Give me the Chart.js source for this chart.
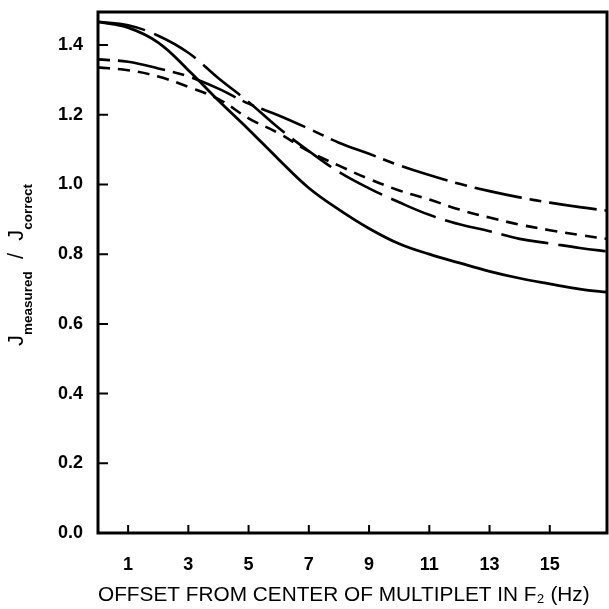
<!DOCTYPE html>
<html>
<head>
<meta charset="utf-8">
<script src="https://cdn.jsdelivr.net/npm/chart.js@4.4.1/dist/chart.umd.min.js"></script>
<style>
  html, body { margin: 0; padding: 0; background: #fff; }
  #wrap { width: 609px; height: 609px; }
</style>
</head>
<body>
<div id="wrap"><canvas id="myChart" width="609" height="609"></canvas></div>
<script>
// offset from multiplet centre (Hz)
const offsets = [0, 1, 2, 3, 4, 5, 6, 7, 8, 9, 10, 11, 12, 13, 14, 15, 16, 17];

// J measured / J correct, one array per curve
const solidCurve     = [1.467, 1.45, 1.407, 1.328, 1.241, 1.158, 1.072, 0.99, 0.928, 0.874, 0.83, 0.80, 0.775, 0.751, 0.731, 0.715, 0.70, 0.69];
const longDashCurve  = [1.467, 1.457, 1.427, 1.378, 1.305, 1.237, 1.162, 1.096, 1.036, 0.989, 0.949, 0.913, 0.886, 0.866, 0.844, 0.831, 0.818, 0.807];
const longShortCurve = [1.359, 1.352, 1.333, 1.31, 1.275, 1.232, 1.198, 1.16, 1.12, 1.088, 1.055, 1.027, 1.002, 0.981, 0.963, 0.948, 0.935, 0.924];
const shortDashCurve = [1.336, 1.328, 1.31, 1.28, 1.245, 1.19, 1.147, 1.095, 1.054, 1.016, 0.983, 0.957, 0.928, 0.905, 0.885, 0.869, 0.855, 0.843];

const xTickValues = [1, 3, 5, 7, 9, 11, 13, 15];
const yTickValues = [0, 0.2, 0.4, 0.6, 0.8, 1.0, 1.2, 1.4];

function pts(ys) {
    return offsets.map((x, i) => ({ x: x, y: ys[i] }));
}

function curve(ys, dash, width) {
    return {
        data: pts(ys),
        borderColor: "#000",
        borderWidth: width,
        borderDash: dash,
        pointRadius: 0,
        fill: false,
        tension: 0.4
    };
}

// frame + inward tick marks + y title
const framePlugin = {
    id: "frame",
    afterDraw(chart) {
        const ctx = chart.ctx;
        const a = chart.chartArea;
        const xs = chart.scales.x, ys = chart.scales.y;
        ctx.save();
        ctx.strokeStyle = "#000";
        ctx.lineCap = "square";
        ctx.lineWidth = 3;
        ctx.beginPath();
        ctx.moveTo(a.left, a.top);
        ctx.lineTo(a.right, a.top);
        ctx.lineTo(a.right, a.bottom);
        ctx.lineTo(a.left, a.bottom);
        ctx.closePath();
        ctx.stroke();

        ctx.lineWidth = 2;
        ctx.lineCap = "butt";
        ctx.beginPath();
        yTickValues.forEach(v => {
            const py = ys.getPixelForValue(v);
            ctx.moveTo(a.left, py);
            ctx.lineTo(a.left + 10, py);
        });
        xTickValues.forEach(v => {
            const px = xs.getPixelForValue(v);
            ctx.moveTo(px, a.bottom);
            ctx.lineTo(px, a.bottom - 8);
        });
        ctx.stroke();

        ctx.translate(0, 265);
        ctx.rotate(-Math.PI / 2);
        ctx.fillStyle = "#000";
        ctx.textBaseline = "alphabetic";
        const big = "22px 'Liberation Sans', Arial, sans-serif";
        const small = "bold 13.5px 'Liberation Sans', Arial, sans-serif";
        const parts = [
            ["J", big, 23], ["measured", small, 32], ["  /  ", big, 23],
            ["J", big, 23], ["correct", small, 32]
        ];
        let total = 0;
        parts.forEach(p => { ctx.font = p[1]; total += ctx.measureText(p[0]).width; });
        let u = -total / 2;
        parts.forEach(p => {
            ctx.font = p[1];
            ctx.fillText(p[0], u, p[2]);
            u += ctx.measureText(p[0]).width;
        });
        ctx.restore();
    }
};

new Chart("myChart", {
    type: "line",
    data: {
        datasets: [
            curve(solidCurve, [], 2.8),
            curve(longDashCurve, [48, 10], 2.6),
            curve(longShortCurve, [12, 8, 48, 8], 2.6),
            curve(shortDashCurve, [12, 8], 2.6)
        ]
    },
    options: {
        responsive: false,
        animation: false,
        layout: { padding: { top: 12, right: 2, left: 0, bottom: 0 } },
        plugins: { legend: { display: false }, tooltip: { enabled: false } },
        scales: {
            x: {
                type: "linear",
                min: 0,
                max: 16.9,
                grid: { display: false, drawTicks: false },
                border: { display: false },
                afterBuildTicks: s => { s.ticks = xTickValues.map(v => ({ value: v })); },
                afterFit: s => { s.height = 76; },
                ticks: {
                    color: "#000",
                    padding: 21,
                    maxRotation: 0,
                    font: { family: "'Liberation Sans', Arial, sans-serif", size: 18, weight: "bold" }
                },
                title: {
                    display: true,
                    text: "OFFSET FROM CENTER OF MULTIPLET IN F\u2082 (Hz)\u00a0\u00a0\u00a0",
                    color: "#000",
                    padding: { top: 0, bottom: 1 },
                    font: { family: "'Liberation Sans', Arial, sans-serif", size: 21 }
                }
            },
            y: {
                min: 0,
                max: 1.495,
                grid: { display: false, drawTicks: false },
                border: { display: false },
                afterBuildTicks: s => { s.ticks = yTickValues.map(v => ({ value: v })); },
                afterFit: s => { s.width = 98; s.paddingTop = 0; },
                ticks: {
                    color: "#000",
                    padding: 15,
                    callback: v => v.toFixed(1),
                    font: { family: "'Liberation Sans', Arial, sans-serif", size: 18, weight: "bold" }
                }
            }
        }
    },
    plugins: [framePlugin]
});
</script>
</body>
</html>
